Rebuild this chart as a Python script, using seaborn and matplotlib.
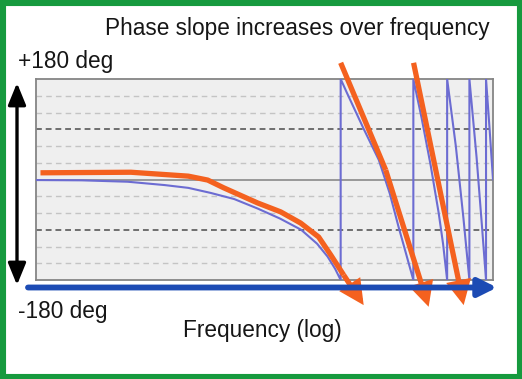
import matplotlib
matplotlib.use("Agg")
import matplotlib.pyplot as plt
import matplotlib.patches as mpatches
import numpy as np
import pandas as pd
import seaborn as sns

# ---------------- data ----------------
# phase curve (frequency relative to first -180 crossing, degrees)
phase_freq = [0.0101, 0.02, 0.04, 0.07, 0.10, 0.14, 0.20, 0.285, 0.40, 0.55, 0.70, 0.82, 0.92, 1.0,
              1.0, 1.1, 1.42, 1.78, 2.1, 2.4, 2.7, 3.0,
              3.0, 3.4, 3.9, 4.4, 4.7, 5.0,
              5.0, 5.7, 6.4, 7.0,
              7.0, 7.8, 8.5, 9.0,
              9.0, 9.5, 10.0]
phase_deg = [-1, -1.5, -4, -10, -15, -24, -35, -52, -70, -90, -115, -138, -160, -180,
             180, 155, 90, 35, -25, -85, -135, -180,
             180, 110, 25, -60, -115, -180,
             180, 60, -70, -180,
             180, 40, -90, -180,
             180, 90, 0]

# orange annotation paths (freq, deg); last point is the arrow tip
orange1_freq = [0.0107, 0.042, 0.10, 0.134, 0.171, 0.285, 0.404, 0.546, 0.717, 0.86, 1.046, 1.416]
orange1_deg = [12, 13, 6, -1, -15, -42, -58, -78, -103, -135, -171, -225]
orange2_freq = [1.0, 1.975, 3.78]
orange2_deg = [209, 17, -228]
orange3_freq = [3.01, 6.42]
orange3_deg = [209, -225]

grid_light = [-150, -120, -60, -30, 30, 60, 120, 150]
grid_dark = [-90, 90]
grid_zero = [0]

title = "Phase slope increases over frequency"
top_label = "+180 deg"
bottom_label = "-180 deg"
x_label = "Frequency (log)"

# ---------------- style ----------------
sns.set_style("white")
plt.rcParams["font.family"] = ["Liberation Sans", "DejaVu Sans"]

W, H = 522, 379
fig = plt.figure(figsize=(W / 100, H / 100), dpi=100)
fig.patch.set_facecolor("white")

ax = fig.add_axes([36 / W, 1 - 280 / H, 457 / W, 201 / H])
ax.set_facecolor("#efefef")
ax.set_xscale("log")
ax.set_xlim(0.01, 10)
ax.set_ylim(-180, 180)
ax.set_xticks([])
ax.set_yticks([])
ax.minorticks_off()
for s in ax.spines.values():
    s.set_color("#858585")
    s.set_linewidth(1.3)

for g in grid_light:
    ax.axhline(g, color="#c4c4c4", lw=1.0, dashes=(4, 3), zorder=1)
for g in grid_dark:
    ax.axhline(g, color="#6e6e6e", lw=1.4, dashes=(3, 2), zorder=1)
for g in grid_zero:
    ax.axhline(g, color="#8a8a8a", lw=1.2, zorder=1)

blue = "#6c6cd2"
orange = "#f4611f"

df_phase = pd.DataFrame({"freq": phase_freq, "phase": phase_deg})
sns.lineplot(data=df_phase, x="freq", y="phase", sort=False, estimator=None,
             color=blue, lw=1.5, ax=ax, zorder=3)

orange_lw = 3.8
def orange_path(freqs, degs):
    if len(freqs) > 2:
        d = pd.DataFrame({"freq": freqs[:-1], "phase": degs[:-1]})
        sns.lineplot(data=d, x="freq", y="phase", sort=False, estimator=None,
                     color=orange, lw=orange_lw, ax=ax, zorder=5, clip_on=False,
                     solid_capstyle="butt", solid_joinstyle="round")
    ax.annotate("", xy=(freqs[-1], degs[-1]), xytext=(freqs[-2], degs[-2]),
                xycoords="data", textcoords="data", annotation_clip=False,
                arrowprops=dict(arrowstyle="-|>,head_length=0.8,head_width=0.4",
                                mutation_scale=15, color=orange, lw=orange_lw,
                                shrinkA=0, shrinkB=0, joinstyle="miter",
                                capstyle="butt"),
                zorder=6)

orange_path(orange1_freq, orange1_deg)
orange_path(orange2_freq, orange2_deg)
orange_path(orange3_freq, orange3_deg)
ax.set_xlabel("")
ax.set_ylabel("")

# ---------------- figure-level decorations ----------------
# black double arrow
fig.add_artist(mpatches.FancyArrowPatch(
    posA=(17 / W, 1 - 83 / H), posB=(17 / W, 1 - 285 / H), transform=fig.transFigure,
    arrowstyle="<|-|>,head_length=1.1,head_width=0.45", mutation_scale=12,
    color="black", lw=2.4, shrinkA=0, shrinkB=0))

# blue frequency arrow
fig.add_artist(mpatches.FancyArrowPatch(
    posA=(28 / W, 1 - 287.5 / H), posB=(497 / W, 1 - 287.5 / H), transform=fig.transFigure,
    arrowstyle="-|>,head_length=1.0,head_width=0.5", mutation_scale=11,
    color="#1c4bb4", lw=4.2, shrinkA=0, shrinkB=0, zorder=4))

txt_kw = dict(fontsize=16.3, color="#161616", ha="left", va="baseline")
fig.text(105 / W, 1 - 35 / H, title, **txt_kw)
fig.text(18 / W, 1 - 68 / H, top_label, **txt_kw)
fig.text(18 / W, 1 - 318 / H, bottom_label, **txt_kw)
fig.text(183 / W, 1 - 337 / H, x_label, **txt_kw)

# green frame
fig.add_artist(mpatches.Rectangle((0, 0), 1, 1, transform=fig.transFigure,
                                  fill=False, edgecolor="#169a3e", lw=8, zorder=10))

fig.savefig("out.png", dpi=100)
